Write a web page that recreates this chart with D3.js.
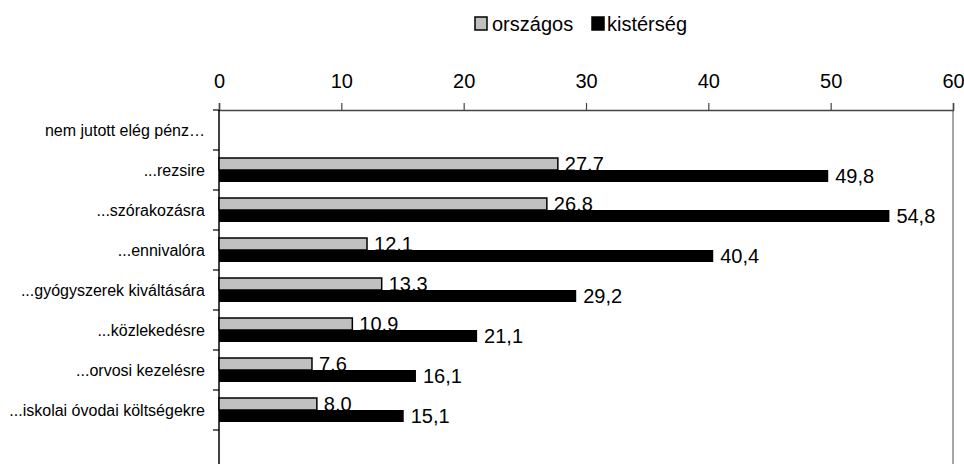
<!DOCTYPE html>
<html>
<head>
<meta charset="utf-8">
<script src="https://cdn.jsdelivr.net/npm/d3@7"></script>
<style>
  html, body { margin: 0; padding: 0; background: #fff; }
  svg { display: block; font-family: "Liberation Sans", Arial, sans-serif; }
</style>
</head>
<body>
<svg id="chart" width="964" height="464"></svg>
<script>
const categories = ["nem jutott elég pénz…", "...rezsire", "...szórakozásra", "...ennivalóra",
  "...gyógyszerek kiváltására", "...közlekedésre", "...orvosi kezelésre",
  "...iskolai óvodai költségekre", ""];
const seriesNames = ["országos", "kistérség"];
const orszagos = [null, 27.7, 26.8, 12.1, 13.3, 10.9, 7.6, 8.0, null];
const kisterseg = [null, 49.8, 54.8, 40.4, 29.2, 21.1, 16.1, 15.1, null];
const xTicks = [0, 10, 20, 30, 40, 50, 60];

const svg = d3.select("#chart");
const mLeft = 219, mRight = 953, mTop = 110, mBottom = 470;

const x = d3.scaleLinear().domain([0, 60]).range([mLeft, mRight]);
const y = d3.scaleBand().domain(d3.range(categories.length)).range([mTop, mBottom])
  .paddingInner(0.4).paddingOuter(0.2);
const ySub = d3.scaleBand().domain(seriesNames).range([0, y.bandwidth()]);
const fmt = v => v.toFixed(1).replace(".", ",");

// right border
svg.append("line").attr("x1", mRight).attr("x2", mRight).attr("y1", mTop).attr("y2", 464)
  .attr("stroke", "#888").attr("stroke-width", 1.5);

// top axis
const xAxis = d3.axisTop(x).tickValues(xTicks).tickSize(7).tickPadding(15).tickFormat(d3.format("d"));
const gx = svg.append("g").attr("transform", `translate(0,${mTop})`).call(xAxis);
gx.select(".domain").attr("stroke", "#444").attr("stroke-width", 1.5);
gx.selectAll(".tick line").attr("stroke", "#444").attr("stroke-width", 1.2);
gx.selectAll(".tick text").attr("font-size", 20).attr("fill", "#000")
  .attr("font-family", "Liberation Sans, Arial, sans-serif");

// left axis ticks at band boundaries
const boundaries = d3.range(categories.length + 1).map(i => mTop + i * y.step());
svg.append("g").selectAll("line").data(boundaries).join("line")
  .attr("x1", mLeft - 6).attr("x2", mLeft).attr("y1", d => d).attr("y2", d => d)
  .attr("stroke", "#000").attr("stroke-width", 1.2);
svg.append("line").attr("x1", mLeft).attr("x2", mLeft).attr("y1", mTop).attr("y2", 464)
  .attr("stroke", "#000").attr("stroke-width", 1.5);

// category labels
svg.append("g").selectAll("text").data(categories).join("text")
  .attr("x", 205).attr("y", (d, i) => mTop + i * y.step() + y.step() / 2)
  .attr("dy", "0.35em").attr("text-anchor", "end").attr("font-size", 16).text(d => d);

const rows = categories.map((c, i) => ({ i, o: orszagos[i], k: kisterseg[i] }));

// gray bars
svg.append("g").selectAll("rect").data(rows.filter(r => r.o != null)).join("rect")
  .attr("x", x(0)).attr("y", r => y(r.i) + ySub("országos"))
  .attr("width", r => x(r.o) - x(0)).attr("height", ySub.bandwidth())
  .attr("fill", "#c0c0c0").attr("stroke", "#000").attr("stroke-width", 1.5);

// gray labels (drawn before black bars so bottoms are covered)
svg.append("g").selectAll("text").data(rows.filter(r => r.o != null)).join("text")
  .attr("x", r => x(r.o) + 7).attr("y", r => y(r.i) + ySub("országos") + ySub.bandwidth() + 1)
  .attr("font-size", 20).text(r => fmt(r.o));

// black bars
svg.append("g").selectAll("rect").data(rows.filter(r => r.k != null)).join("rect")
  .attr("x", x(0)).attr("y", r => y(r.i) + ySub("kistérség"))
  .attr("width", r => x(r.k) - x(0)).attr("height", ySub.bandwidth())
  .attr("fill", "#000");

svg.append("g").selectAll("text").data(rows.filter(r => r.k != null)).join("text")
  .attr("x", r => x(r.k) + 7).attr("y", r => y(r.i) + ySub("kistérség") + ySub.bandwidth() + 0.5)
  .attr("font-size", 20).text(r => fmt(r.k));

// legend
const legend = svg.append("g");
const legendItems = [
  { name: "országos", x: 475, tx: 492, fill: "#c0c0c0" },
  { name: "kistérség", x: 592, tx: 607, fill: "#000" }
];
legendItems.forEach(d => {
  legend.append("rect").attr("x", d.x).attr("y", 17).attr("width", 12).attr("height", 13)
    .attr("fill", d.fill).attr("stroke", "#000").attr("stroke-width", 1.5);
  legend.append("text").attr("x", d.tx).attr("y", 31).attr("font-size", 20).text(d.name);
});
</script>
</body>
</html>
